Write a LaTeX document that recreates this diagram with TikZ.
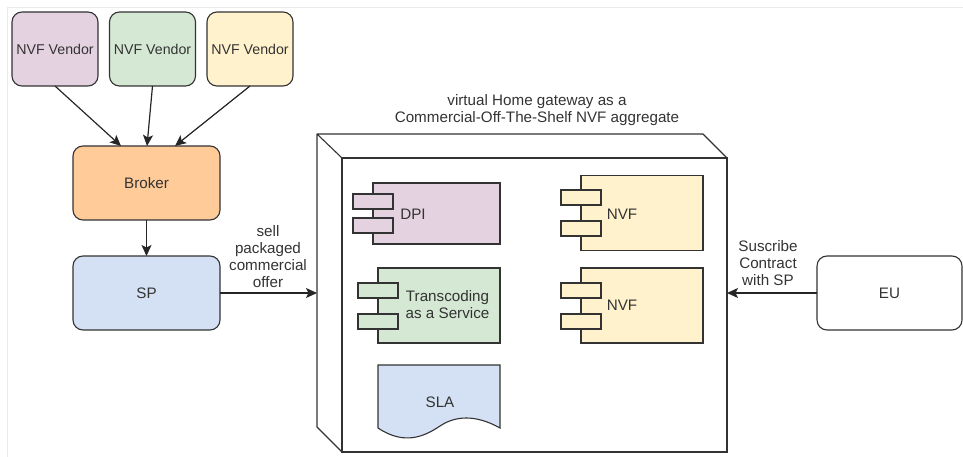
\documentclass[tikz,border=0pt]{standalone}
\usepackage{fontspec}
\setmainfont{Liberation Sans}
\usetikzlibrary{arrows.meta}

\begin{document}
\begin{tikzpicture}[x=1pt, y=-1pt,
    every node/.style={font=\fontsize{15.2}{17}\selectfont, text=black!80, align=center, outer sep=0pt},
    boxline/.style={draw=black!80, line width=1.1pt},
    roundbox/.style={boxline, rounded corners=10pt},
    vendor/.style={roundbox, minimum width=86pt, minimum height=74pt, inner sep=0pt, font=\fontsize{14.2}{17}\selectfont},
    block/.style={roundbox, minimum width=147pt, minimum height=74pt},
    body/.style={boxline, minimum width=122pt, minimum height=75pt},
    port/.style={boxline, minimum width=40pt, minimum height=15pt},
    link/.style={draw=black!85, line width=1.2pt, -{Stealth[length=11pt, width=10pt, inset=2.5pt]}},
    lilac/.style={fill=purpleish}, mint/.style={fill=greenish},
    cream/.style={fill=yellowish}, sky/.style={fill=blueish}]
    \definecolor{purpleish}{HTML}{E4D2E0}
    \definecolor{greenish}{HTML}{D5E8D4}
    \definecolor{yellowish}{HTML}{FFF2CC}
    \definecolor{orangeish}{HTML}{FFCC99}
    \definecolor{blueish}{HTML}{D4E1F5}
    \useasboundingbox (0,0) rectangle (963,457);
    \draw[black!8, line width=0.8pt] (7.5,457) -- (7.5,7.5) -- (963,7.5);

    \node[vendor, lilac] (v1) at (55,49) {NVF Vendor};
    \node[vendor, mint] (v2) at (152.5,49) {NVF Vendor};
    \node[vendor, cream] (v3) at (250,49) {NVF Vendor};
    \node[block, fill=orangeish] (broker) at (146.5,183) {Broker};
    \node[block, sky] (sp) at (146.5,293) {SP};
    \node[block, minimum width=145pt] (eu) at (889.5,293) {EU};

    \coordinate (brokerA) at (121,146);
    \coordinate (brokerC) at (175,146);
    \coordinate (brokerB) at (147,146);

    \node[boxline, fill=white, minimum width=385pt, minimum height=294pt] (front) at (534.5,305) {};
    \coordinate (backTL) at (317,134);
    \coordinate (backTR) at (703,134);
    \coordinate (backBL) at (317,427);
    \coordinate (backL) at (317,293);
    \coordinate (frontR) at (727,293);
    \draw[boxline, line join=round] (front.north west) -- (backTL) -- (backTR) -- (front.north east)
        (backTL) -- (backBL) -- (front.south west);

    \node[body, lilac, minimum width=127pt, minimum height=61pt] (dpi) at (436.5,213.5) {};
    \node[port, lilac] (dpiA) at (373,201.5) {};
    \node[port, lilac] (dpiB) at (373,225.5) {};
    \node (dpitext) at (413,214) {DPI};

    \node[body, mint] (tc) at (439,305.5) {};
    \node[port, mint] (tcA) at (378,290.5) {};
    \node[port, mint] (tcB) at (378,321.5) {};
    \node (tctext) at (447.5,305) {Transcoding\\as a Service};

    \node[body, cream] (nvfA) at (642,213) {};
    \node[port, cream] (nvfAa) at (581,197.5) {};
    \node[port, cream] (nvfAb) at (581,228.5) {};
    \node (nvfAtext) at (622,214) {NVF};

    \node[body, cream] (nvfB) at (642,305.5) {};
    \node[port, cream] (nvfBa) at (581,290.5) {};
    \node[port, cream] (nvfBb) at (581,321.5) {};
    \node (nvfBtext) at (622,305) {NVF};

    \draw[boxline, sky] (378,365) -- (500,365) -- (500,428)
        .. controls (475,414) and (455,416) .. (440,426)
        .. controls (425,436) and (405,446) .. (378,428) -- cycle;
    \node (sla) at (440,402) {SLA};

    \node (title) at (537,110) {virtual Home gateway as a\\Commercial-Off-The-Shelf NVF aggregate};
    \node (sell) at (268,257) {sell\\packaged\\commercial\\offer};
    \node (suscribe) at (768,263) {Suscribe\\Contract\\with SP};

    \draw[link] (v1.south) -- (brokerA);
    \draw[link] (v2.south) -- (brokerB);
    \draw[link] (v3.south) -- (brokerC);
    \draw[link] (broker) -- (sp);
    \draw[link] (sp.east) -- (backL);
    \draw[link] (eu.west) -- (frontR);
\end{tikzpicture}
\end{document}
